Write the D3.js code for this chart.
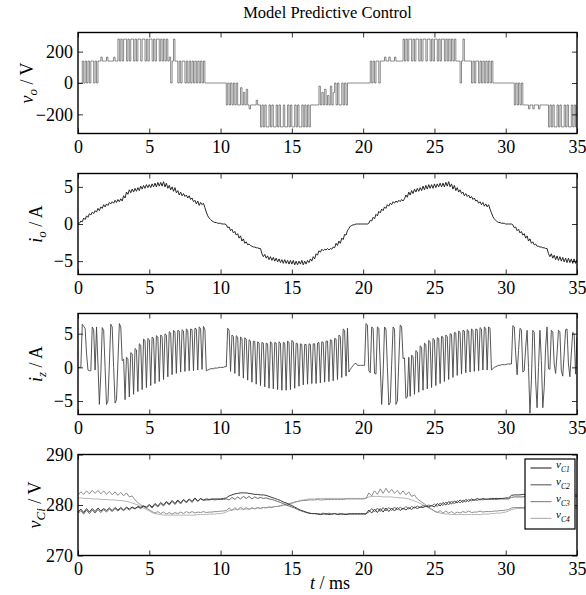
<!DOCTYPE html>
<html>
<head>
<meta charset="utf-8">
<script src="https://cdn.jsdelivr.net/npm/d3@7"></script>
<style>
body { margin: 0; background: #fff; }
svg { font-family: "Liberation Serif", "Times New Roman", serif; }
</style>
</head>
<body>
<script>
// sampling grids (ms between samples)
var fastStep = 0.1;   // vo, io, iz
var capStep = 0.2;    // capacitor voltages

var xTicks = [0, 5, 10, 15, 20, 25, 30, 35];
var voTicks = [-200, 0, 200];
var ioTicks = [-5, 0, 5];
var izTicks = [-5, 0, 5];
var vcTicks = [270, 280, 290];
var capNames = ['C1', 'C2', 'C3', 'C4'];

// output voltage, V (one row per ms)
var voSamples = [
  0,0,0,140,0,140,0,140,0,140,
  140,0,140,0,140,140,165,140,140,140,
  165,140,140,140,140,165,140,140,280,140,
  280,140,280,280,140,280,140,280,280,140,
  280,140,280,280,140,280,280,140,280,140,
  280,280,140,280,140,280,280,140,280,140,
  280,140,280,140,165,0,140,280,140,140,
  0,140,0,140,140,0,140,0,140,0,
  140,0,140,0,140,0,140,0,140,0,
  0,0,0,0,0,0,0,0,0,0,
  0,0,0,0,-140,0,-140,0,-140,0,
  -140,0,-140,-140,-30,-140,-60,-140,-40,-140,
  -165,-140,-140,-140,-140,-110,-140,-140,-280,-140,
  -280,-140,-280,-280,-140,-280,-140,-280,-280,-140,
  -280,-140,-280,-280,-140,-280,-280,-140,-280,-140,
  -280,-280,-140,-280,-140,-280,-280,-140,-280,-140,
  -280,-140,-280,-140,-140,-140,-140,-140,-140,-20,
  -140,-60,-140,-40,-140,-80,-140,-20,-140,-60,
  0,-140,0,-140,-140,0,-140,0,-140,0,
  0,0,0,0,0,0,0,0,0,0,
  0,0,0,0,0,140,0,140,0,140,
  140,0,140,140,140,165,140,140,165,140,
  140,140,165,140,140,140,140,140,280,140,
  280,140,280,280,140,280,140,280,280,140,
  280,140,280,280,140,280,280,140,280,140,
  280,280,140,280,140,280,280,140,280,140,
  280,140,280,140,280,140,140,140,0,140,
  280,140,140,140,140,140,0,140,0,140,
  140,0,140,0,140,0,140,0,140,0,
  140,0,0,0,0,0,0,0,0,0,
  0,0,0,0,0,0,-140,0,-140,0,
  -140,0,-140,-140,-140,-140,-165,-140,-140,-165,
  -140,-140,-140,-165,-140,-140,-140,-140,-140,-140,
  -280,-140,-280,-140,-280,-280,-140,-280,-140,-280,
  -280,-140,-280,-140,-280,-280,-140,-280,-140,-280,
  -140
];

// output current, A
var ioSamples = [
  0.0,0.1,0.4,0.3,0.8,0.6,1.1,0.9,1.4,1.2,
  1.6,1.4,1.8,1.6,2.1,1.8,2.3,2.1,2.6,2.3,
  2.7,2.5,2.9,2.7,3.0,2.8,3.2,2.9,3.3,3.0,
  3.4,3.1,3.8,3.5,4.3,4.0,4.6,4.2,4.7,4.3,
  4.8,4.4,4.9,4.5,5.1,4.7,5.2,4.8,5.3,4.9,
  5.3,4.9,5.4,5.0,5.5,5.0,5.6,5.1,5.6,5.1,
  5.7,5.0,5.5,4.8,5.2,4.6,5.0,4.4,4.9,4.2,
  4.5,3.9,4.3,3.8,4.1,3.7,3.9,3.5,3.8,3.3,
  3.5,3.0,3.2,2.7,3.1,2.5,2.9,2.6,2.8,2.2,
  1.6,1.1,0.8,0.6,0.4,0.3,0.2,0.2,0.1,0.1,
  0.1,0.0,0.0,0.0,-0.1,-0.5,-0.4,-0.9,-0.7,-1.2,
  -1.0,-1.5,-1.3,-1.9,-1.6,-2.3,-2.0,-2.6,-2.4,-2.8,
  -2.7,-2.9,-3.0,-3.1,-3.1,-3.2,-3.2,-3.3,-3.3,-4.0,
  -4.4,-4.1,-4.6,-4.3,-4.8,-4.4,-4.9,-4.5,-5.0,-4.6,
  -5.1,-4.7,-5.2,-4.8,-5.3,-4.8,-5.3,-4.9,-5.4,-4.9,
  -5.4,-4.9,-5.5,-5.0,-5.5,-5.0,-5.4,-4.9,-5.5,-5.0,
  -5.4,-4.9,-5.2,-4.7,-5.0,-4.4,-4.7,-4.0,-4.2,-3.6,
  -3.8,-3.4,-3.6,-3.4,-3.5,-3.3,-3.5,-3.3,-3.4,-3.1,
  -3.2,-2.6,-2.9,-2.3,-2.6,-1.9,-2.1,-1.4,-1.5,-0.9,
  -0.6,-0.3,-0.2,-0.1,-0.1,0.0,0.0,0.0,0.0,0.0,
  0.0,0.0,0.0,0.0,0.1,0.5,0.4,0.9,0.7,1.3,
  1.1,1.7,1.5,2.0,1.8,2.3,2.1,2.6,2.4,2.8,
  2.6,3.0,2.8,3.1,2.9,3.2,3.0,3.3,3.1,3.4,
  3.9,3.6,4.3,3.9,4.5,4.1,4.7,4.3,4.8,4.4,
  4.9,4.5,5.1,4.6,5.2,4.7,5.3,4.8,5.3,4.8,
  5.4,4.9,5.4,5.0,5.5,5.0,5.5,5.0,5.6,5.1,
  5.7,5.0,5.4,4.7,5.2,4.5,4.9,4.3,4.6,4.1,
  4.3,3.8,4.1,3.7,3.9,3.5,3.7,3.3,3.5,3.1,
  3.2,2.8,3.0,2.6,2.9,2.4,2.7,2.3,2.6,2.0,
  1.5,1.0,0.7,0.5,0.3,0.2,0.2,0.1,0.1,0.1,
  0.0,0.0,0.0,0.0,0.0,-0.1,-0.5,-0.4,-0.9,-0.7,
  -1.2,-1.0,-1.5,-1.3,-1.9,-1.6,-2.3,-2.0,-2.6,-2.4,
  -2.8,-2.7,-3.0,-3.0,-3.1,-3.1,-3.2,-3.2,-3.3,-3.3,
  -4.0,-4.4,-4.0,-4.6,-4.2,-4.8,-4.3,-4.9,-4.4,-5.0,
  -4.5,-5.1,-4.6,-5.2,-4.6,-5.2,-4.7,-5.3,-4.7,-5.3,
  -4.8
];

// circulating current, A
var izSamples = [
  0.0,0.0,0.0,6.4,6.1,5.8,2.0,-0.4,-0.5,-0.5,
  6.0,5.6,-0.4,6.0,0.5,-5.5,-1.0,5.9,5.5,0.0,
  -5.5,-5.0,0.5,6.4,6.0,0.0,-5.3,-4.8,0.8,6.5,
  6.0,1.0,1.2,-4.8,1.5,1.3,-4.4,2.2,2.0,-4.0,
  2.8,2.6,-3.6,3.5,3.3,-3.3,4.2,4.0,-3.0,4.3,
  4.1,-2.7,4.5,4.3,-2.4,4.7,4.5,-2.1,4.8,4.6,
  -1.8,5.0,4.8,-1.4,5.3,5.1,-1.1,5.5,5.3,-0.9,
  5.5,5.4,-0.7,5.6,5.4,-0.6,5.7,5.5,-0.5,5.7,
  5.6,-0.5,5.8,5.7,-0.4,6.0,5.8,-0.3,6.1,5.6,
  -0.5,-0.4,-0.3,-0.2,-0.2,-0.2,-0.1,-0.1,-0.1,0.0,
  0.0,0.0,0.0,0.1,0.1,5.8,5.5,-0.6,4.8,4.6,
  -0.9,4.7,4.5,-1.3,4.5,4.3,-1.6,4.4,4.2,-1.9,
  4.1,3.9,-2.2,3.9,3.8,-2.5,3.8,3.6,-2.7,3.7,
  3.6,-2.9,3.6,3.5,-3.1,3.8,3.6,-3.2,3.7,3.6,
  -3.3,3.8,3.6,-3.4,3.7,3.6,-3.4,3.9,3.7,-3.3,
  4.0,3.8,-3.1,3.6,3.5,-2.8,3.5,3.4,-2.6,3.4,
  3.4,-2.5,3.5,3.4,-2.4,3.5,3.5,-2.4,3.6,3.7,
  -2.3,3.8,3.7,-2.2,3.9,3.9,-2.1,4.1,4.0,-2.0,
  4.3,4.2,-1.8,4.8,4.6,-1.5,5.7,5.5,-1.3,5.8,
  -0.7,-0.3,0.0,0.3,0.5,0.6,0.3,0.3,0.3,0.3,
  0.3,0.3,6.5,6.3,-0.5,-0.8,6.0,5.8,-0.9,-1.0,
  6.0,5.8,0.2,-5.5,-1.0,6.0,5.7,0.0,-5.6,-5.2,
  0.5,6.0,5.7,-5.5,-5.0,0.8,6.3,6.0,1.3,1.4,
  -4.6,-4.4,1.5,-4.3,1.8,1.6,-4.0,2.5,2.3,-3.7,
  3.2,3.0,-3.4,3.6,3.4,-3.2,4.0,3.8,-3.0,4.3,
  4.1,-2.7,4.4,4.3,-2.4,4.6,4.5,-2.1,4.8,4.6,
  -1.8,5.0,4.9,-1.5,5.2,5.1,-1.2,5.4,5.2,-1.0,
  5.5,5.4,-0.8,5.6,5.4,-0.7,5.7,5.5,-0.6,5.7,
  5.6,-0.5,5.9,5.7,-0.4,6.0,5.8,-0.4,6.0,5.8,
  -0.4,-0.2,0.0,0.1,0.2,0.3,0.3,0.4,0.4,0.4,
  0.4,0.5,0.5,0.5,0.5,6.2,6.0,2.0,-1.1,2.5,
  5.8,5.6,-0.7,-0.5,3.0,5.5,0.0,-6.8,-2.0,5.5,
  5.2,-2.0,-6.0,0.0,5.5,1.0,-6.0,-3.0,3.0,6.0,
  -0.2,-0.3,5.5,5.3,0.5,-0.9,2.0,5.5,5.3,-0.5,
  -1.3,2.0,5.6,5.7,0.5,-1.4,2.0,5.2,5.0,-1.0,
  4.5
];

// capacitor voltages, V (one row per ms)
var vc1 = [
  278.6,279.2,278.5,279.3,278.6, 279.3,278.7,279.4,278.8,279.3,
  278.9,279.4,278.9,279.5,279.0, 279.5,279.0,279.6,279.2,279.6,
  279.3,279.7,279.5,279.8,279.6, 280.1,279.6,280.3,279.8,280.5,
  280.0,280.7,280.2,280.9,280.3, 281.0,280.4,281.1,280.6,281.2,
  280.7,281.4,280.8,281.3,281.0, 281.2,281.1,281.2,281.2,281.2,
  281.2,281.3,281.4,281.8,282.0, 282.2,282.3,282.4,282.4,282.4,
  282.3,282.2,282.1,282.1,282.0, 282.0,281.9,281.7,281.5,281.3,
  281.1,280.9,280.6,280.4,280.1, 279.9,279.6,279.3,279.0,278.8,
  278.6,278.4,278.3,278.3,278.2, 278.1,278.2,278.3,278.1,278.2,
  278.3,278.1,278.2,278.2,278.1, 278.2,278.2,278.2,278.2,278.2,
  278.2,278.2,279.0,278.4,279.2, 278.5,279.3,278.6,279.4,278.7,
  279.4,278.8,279.5,278.9,279.4, 279.0,279.5,279.1,279.6,279.3,
  279.6,279.5,279.8,279.6,279.9, 279.6,280.3,279.8,280.5,280.0,
  280.7,280.2,280.8,280.4,281.0, 280.5,281.1,280.7,281.2,280.9,
  281.3,281.0,281.3,281.1,281.2, 281.3,281.3,281.3,281.3,281.3,
  281.4,281.4,281.9,282.0,282.0, 282.0,282.1,282.1,282.1,282.1,
  282.1,282.1,282.1,282.1,282.1, 282.1,282.0,282.0,282.0,282.0,
  282.0,282.0,282.0,282.0,282.0,
  282.0
];
var vc2 = [
  278.3,278.9,278.2,279.0,278.3, 279.0,278.4,279.1,278.5,279.1,
  278.6,279.2,278.7,279.3,278.8, 279.3,278.9,279.4,279.0,279.5,
  279.2,279.6,279.3,279.7,279.4, 279.9,279.4,280.1,279.6,280.3,
  279.8,280.5,280.0,280.7,280.1, 280.8,280.2,281.0,280.4,281.1,
  280.5,281.3,280.7,281.2,280.9, 281.0,281.0,281.1,281.0,281.1,
  281.1,281.1,281.2,281.0,281.5, 281.1,281.6,281.2,281.7,281.3,
  281.7,281.2,281.6,281.3,281.5, 281.3,281.4,281.2,281.1,280.9,
  280.7,280.5,280.3,280.0,279.8, 279.6,279.4,279.1,278.9,278.7,
  278.5,278.4,278.3,278.3,278.3, 278.2,278.4,278.1,278.4,278.2,
  278.3,278.2,278.3,278.2,278.2, 278.3,278.3,278.3,278.3,278.3,
  278.3,278.3,278.6,279.3,278.6, 279.4,278.7,279.5,278.8,279.5,
  278.9,279.6,279.0,279.6,279.1, 279.7,279.2,279.7,279.4,279.8,
  279.5,279.9,279.7,280.0,279.8, 280.2,279.7,280.4,279.9,280.6,
  280.0,280.8,280.2,280.9,280.4, 281.0,280.6,281.1,280.8,281.1,
  280.9,281.2,281.0,281.2,281.1, 281.1,281.1,281.1,281.2,281.2,
  281.2,281.2,281.5,281.6,281.6, 281.6,281.6,281.7,281.7,281.7,
  281.7,281.7,281.7,281.7,281.7, 281.7,281.7,281.7,281.7,281.7,
  281.7,281.7,281.7,281.7,281.7,
  281.7
];
var vc3 = [
  282.0,282.6,282.1,282.8,282.2, 282.9,282.3,282.9,282.2,282.8,
  282.1,282.7,282.0,282.6,281.9, 282.5,281.8,282.4,281.6,281.8,
  281.0,280.5,280.0,279.8,279.4, 279.0,278.7,278.4,278.7,278.3,
  278.6,278.2,278.5,278.2,278.5, 278.3,278.6,278.3,278.7,278.4,
  278.7,278.4,278.6,278.5,278.7, 278.5,278.6,278.6,278.7,278.7,
  278.8,278.8,278.9,279.4,278.9, 279.5,279.0,279.6,279.1,279.5,
  279.1,279.5,279.2,279.5,279.3, 279.5,279.4,279.6,279.5,279.7,
  279.7,279.9,280.0,280.2,280.3, 280.4,280.6,280.7,280.8,280.9,
  280.9,281.0,281.0,281.0,281.1, 281.0,281.0,281.1,281.1,281.1,
  281.1,281.1,281.1,281.1,281.2, 281.2,281.2,281.2,281.2,281.2,
  281.2,281.3,282.4,281.8,282.8, 282.1,283.2,282.3,283.3,282.4,
  283.1,282.3,282.9,282.1,282.8, 282.0,282.6,281.7,282.0,281.2,
  280.8,280.4,280.0,279.6,279.2, 278.8,278.5,278.9,278.4,278.8,
  278.4,278.7,278.3,278.6,278.4, 278.7,278.5,278.8,278.5,278.6,
  278.6,278.8,278.6,278.7,278.7, 278.7,278.8,278.8,278.9,278.9,
  279.0,279.1,279.4,279.5,279.5, 279.5,279.5,279.6,279.6,279.6,
  279.6,279.6,279.6,279.6,279.6, 279.6,279.6,279.6,279.6,279.6,
  279.6,279.6,279.6,279.6,279.6,
  279.6
];
var vc4 = [
  281.4,281.4,281.3,281.3,281.3, 281.2,281.2,281.2,281.1,281.1,
  281.1,281.0,281.0,281.0,280.9, 280.9,280.8,280.7,280.6,280.4,
  280.2,280.0,279.7,279.4,279.1, 278.8,278.5,278.3,278.2,278.1,
  278.0,278.0,278.0,278.0,278.0, 278.0,278.0,278.0,278.0,278.0,
  278.0,278.0,278.1,278.1,278.1, 278.1,278.2,278.2,278.2,278.3,
  278.3,278.4,278.6,278.9,279.0, 279.1,279.1,279.2,279.2,279.2,
  279.2,279.3,279.3,279.4,279.4, 279.5,279.5,279.6,279.6,279.7,
  279.7,279.8,279.9,280.0,280.1, 280.3,280.5,280.7,280.9,281.0,
  281.1,281.2,281.2,281.2,281.3, 281.3,281.3,281.3,281.3,281.3,
  281.3,281.3,281.3,281.3,281.3, 281.3,281.3,281.3,281.3,281.3,
  281.3,281.4,281.6,281.7,281.7, 281.7,281.7,281.6,281.6,281.6,
  281.6,281.5,281.5,281.4,281.4, 281.3,281.2,281.0,280.8,280.6,
  280.3,280.0,279.7,279.4,279.1, 278.8,278.6,278.4,278.3,278.2,
  278.2,278.1,278.1,278.1,278.1, 278.1,278.1,278.1,278.1,278.1,
  278.1,278.1,278.2,278.2,278.2, 278.3,278.3,278.4,278.4,278.5,
  278.6,278.8,279.1,279.2,279.3, 279.3,279.3,279.3,279.3,279.3,
  279.3,279.3,279.3,279.3,279.3, 279.3,279.3,279.3,279.3,279.3,
  279.3,279.3,279.3,279.3,279.3,
  279.3
];

var capColors = ['#3c3c3c', '#6a6a6a', '#8e8e8e', '#b4b4b4'];

var W = 586, H = 595;
var panelH = 101;

var svg = d3.select('body').append('svg')
  .attr('width', W)
  .attr('height', H);

var x = d3.scaleLinear().domain([0, 35]).range([78, 577]);

var panels = [
  {top: 32.5, domain: [-322, 322], ticks: voTicks, lab: ['v', 'o', 'V'], labX: 33,
   series: [{values: voSamples, step: fastStep, color: '#3a3a3a', width: 0.6, stepped: true}]},
  {top: 173.5, domain: [-6.8, 6.8], ticks: ioTicks, lab: ['i', 'o', 'A'], labX: 42,
   series: [{values: ioSamples, step: fastStep, color: '#262626', width: 1}]},
  {top: 313.5, domain: [-7, 8], ticks: izTicks, lab: ['i', 'z', 'A'], labX: 42,
   series: [{values: izSamples, step: fastStep, color: '#444', width: 0.9}]},
  {top: 454.5, domain: [270, 290], ticks: vcTicks, lab: ['v', 'Ci', 'V'], labX: 41,
   series: [
     {values: vc4, step: capStep, color: capColors[3], width: 1},
     {values: vc3, step: capStep, color: capColors[2], width: 1},
     {values: vc2, step: capStep, color: capColors[1], width: 1},
     {values: vc1, step: capStep, color: capColors[0], width: 1}
   ]}
];

var styleAxis = function(a) {
  a.select('.domain').remove();
  a.attr('font-family', null).attr('font-size', 18);
  a.selectAll('line').attr('stroke', '#000').attr('stroke-width', 0.8);
  a.selectAll('text').attr('fill', '#000');
};
var noLabels = function() { return ''; };

var drawPanel = function(p, k) {
  var bottom = p.top + panelH;
  var y = d3.scaleLinear().domain(p.domain).range([bottom, p.top]);
  var g = svg.append('g');

  g.append('clipPath').attr('id', 'clip' + k)
    .append('rect')
    .attr('x', x.range()[0]).attr('y', p.top)
    .attr('width', x.range()[1] - x.range()[0]).attr('height', panelH);

  var plot = g.append('g').attr('clip-path', 'url(#clip' + k + ')');
  p.series.forEach(function(s) {
    var line = d3.line()
      .x(function(d, i) { return x(i * s.step); })
      .y(function(d) { return y(d); })
      .curve(s.stepped ? d3.curveStepAfter : d3.curveLinear);
    plot.append('path')
      .datum(s.values)
      .attr('d', line)
      .attr('fill', 'none')
      .attr('stroke', s.color)
      .attr('stroke-width', s.width)
      .attr('stroke-linejoin', 'round');
  });

  g.append('g').attr('transform', 'translate(0,' + bottom + ')')
    .call(d3.axisBottom(x).tickValues(xTicks).tickSizeInner(-5).tickSizeOuter(0).tickPadding(7))
    .call(styleAxis);
  g.append('g').attr('transform', 'translate(0,' + p.top + ')')
    .call(d3.axisTop(x).tickValues(xTicks).tickSizeInner(-5).tickSizeOuter(0).tickFormat(noLabels))
    .call(styleAxis);
  g.append('g').attr('transform', 'translate(' + x.range()[0] + ',0)')
    .call(d3.axisLeft(y).tickValues(p.ticks).tickSizeInner(-5).tickSizeOuter(0).tickPadding(5))
    .call(styleAxis);
  g.append('g').attr('transform', 'translate(' + x.range()[1] + ',0)')
    .call(d3.axisRight(y).tickValues(p.ticks).tickSizeInner(-5).tickSizeOuter(0).tickFormat(noLabels))
    .call(styleAxis);

  g.append('rect')
    .attr('x', x.range()[0]).attr('y', p.top)
    .attr('width', x.range()[1] - x.range()[0]).attr('height', panelH)
    .attr('fill', 'none').attr('stroke', '#000').attr('stroke-width', 1.4);

  // y label: italic symbol, subscript, unit
  var t = svg.append('text')
    .attr('transform', 'translate(' + p.labX + ',' + (p.top + panelH / 2) + ') rotate(-90)')
    .attr('text-anchor', 'middle')
    .attr('font-size', 18);
  t.append('tspan').attr('font-style', 'italic').text(p.lab[0]);
  t.append('tspan').attr('font-style', 'italic').attr('font-size', 13).attr('dy', 4).text(p.lab[1]);
  t.append('tspan').attr('dy', -4).text(' / ' + p.lab[2]);
};

panels.forEach(drawPanel);

// title
svg.append('text')
  .attr('x', 327.5).attr('y', 18)
  .attr('text-anchor', 'middle')
  .attr('font-size', 16.5)
  .text('Model Predictive Control');

// x label
var xl = svg.append('text')
  .attr('x', 330).attr('y', 589)
  .attr('text-anchor', 'middle')
  .attr('font-size', 18);
xl.append('tspan').attr('font-style', 'italic').text('t');
xl.append('tspan').text(' / ms');

// legend
var legend = svg.append('g');
legend.append('rect')
  .attr('x', 525).attr('y', 459).attr('width', 50).attr('height', 70)
  .attr('fill', '#fff').attr('stroke', '#000').attr('stroke-width', 1.2);
capNames.forEach(function(name, i) {
  var ly = 468 + i * 16.8;
  legend.append('line')
    .attr('x1', 530.5).attr('x2', 551.5).attr('y1', ly).attr('y2', ly)
    .attr('stroke', capColors[i]).attr('stroke-width', 1.2);
  var lt = legend.append('text').attr('x', 556).attr('y', ly).attr('font-style', 'italic');
  lt.append('tspan').attr('font-size', 11).text('v');
  lt.append('tspan').attr('font-size', 7.5).attr('dy', 4).text(name);
});
</script>
</body>
</html>
